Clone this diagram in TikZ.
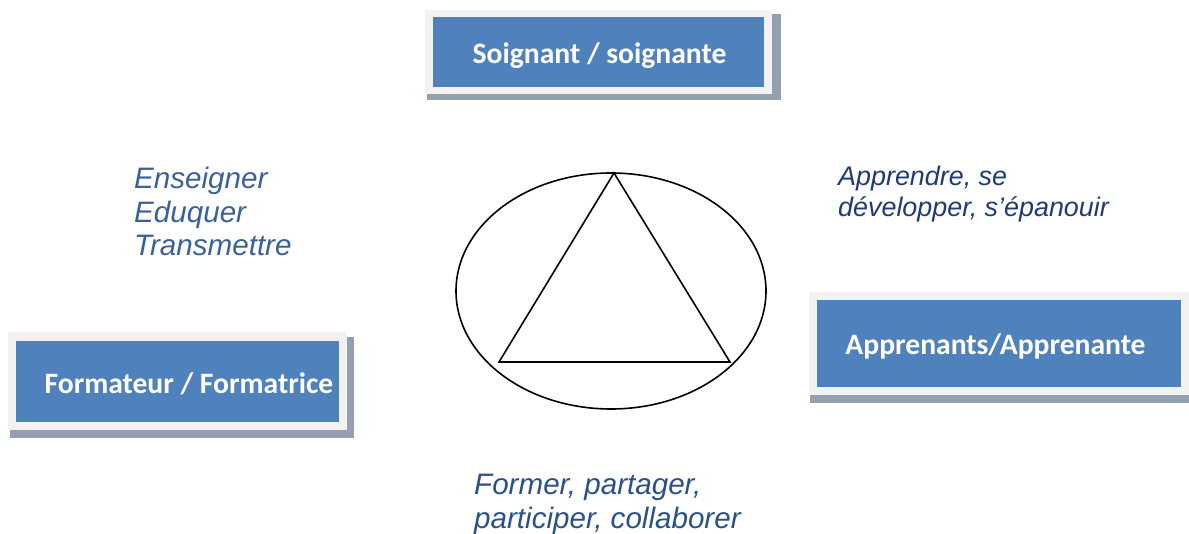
\documentclass[tikz,border=0pt]{standalone}
\usepackage{fontspec}
\usetikzlibrary{shapes.geometric}
\setmainfont{Liberation Sans}
\newfontfamily\boxfont{Carlito}
\definecolor{boxblue}{HTML}{4F81BD}
\definecolor{framegray}{HTML}{F2F2F2}
\definecolor{shadowgray}{HTML}{949FB0}
\definecolor{textA}{HTML}{3A6199}
\definecolor{textB}{HTML}{1F3B7A}
\definecolor{textC}{HTML}{2B5189}
\tikzset{
  shadowbox/.style={fill=shadowgray, draw=none},
  framebox/.style={fill=framegray, draw=none},
  bluebox/.style={fill=boxblue, draw=none, rectangle, inner sep=0pt},
  boxtext/.style={text=white, font=\boxfont\bfseries\fontsize{29.6}{33}\selectfont, inner sep=0pt, anchor=base},
  verbs/.style={font=\itshape\fontsize{29.6}{33.5}\selectfont, align=left, inner sep=0pt, anchor=north west},
  verbsmall/.style={font=\itshape\fontsize{26.9}{30.5}\selectfont, align=left, inner sep=0pt, anchor=north west},
  shape line/.style={draw=black, line width=1.6pt},
}
\begin{document}
\begin{tikzpicture}[x=1pt,y=-1pt]
\useasboundingbox (0,0) rectangle (1189,534);
% top box
\fill[shadowbox] (427,14) rectangle (781,100);
\fill[framebox] (425,10) rectangle (772,94);
\node[bluebox, minimum width=331, minimum height=70] (soign) at (598.5,52) {};
\node[boxtext] (soigntxt) at (599.5,63.5) {Soignant / soignante};
% left box
\fill[shadowbox] (10,337) rectangle (354,438);
\fill[framebox] (8,332) rectangle (347,430);
\node[bluebox, minimum width=323, minimum height=81] (form) at (177.5,381.5) {};
\node[boxtext] (formtxt) at (189,393.5) {Formateur / Formatrice};
% right box
\fill[shadowbox] (810,297) rectangle (1195,403);
\fill[framebox] (809,292) rectangle (1195,395);
\node[bluebox, minimum width=364, minimum height=87] (appr) at (999,343.5) {};
\node[boxtext] (apprtxt) at (995.5,354.5) {Apprenants/Apprenante};
% ellipse and triangle
\node[shape line, ellipse, minimum width=310, minimum height=236, inner sep=0pt] (ell) at (611,291) {};
\coordinate (apex) at (614,173);
\coordinate (bl) at (499,362);
\coordinate (br) at (730,362);
\draw[shape line, line join=miter] (apex) -- (bl) -- (br) -- cycle;
% verbs
\node[verbs, text=textA] (ens) at (134,167) {Enseigner\\Eduquer\\Transmettre};
\node[verbsmall, text=textB] (app) at (838,166) {Apprendre, se\\développer, s’épanouir};
\node[verbs, text=textC] (forme) at (474,474) {Former, partager,\\participer, collaborer};
\end{tikzpicture}
\end{document}
